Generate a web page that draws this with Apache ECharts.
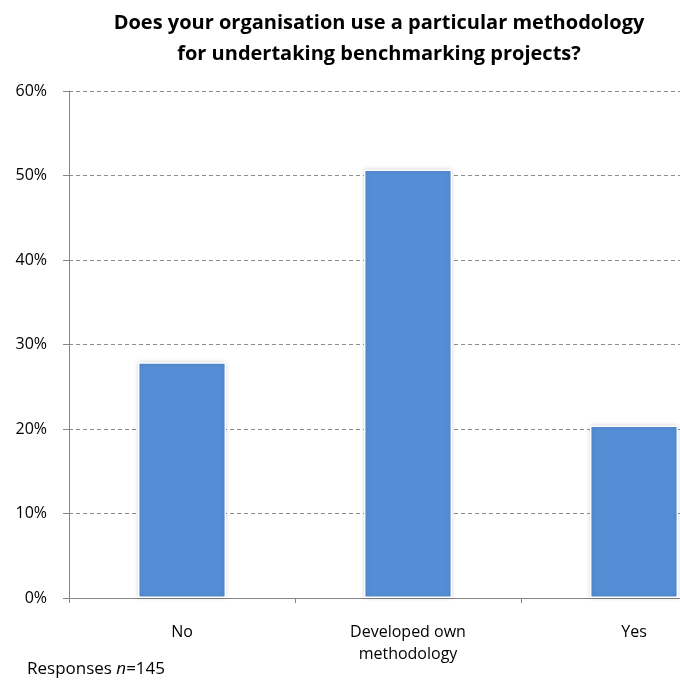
<!DOCTYPE html>
<html>
<head>
<meta charset="utf-8">
<script src="https://cdn.jsdelivr.net/npm/echarts@6/dist/echarts.min.js"></script>
<style>
  html, body { margin: 0; padding: 0; background: #fff; }
  #chart { width: 680px; height: 684px; }
</style>
</head>
<body>
<div id="chart"></div>
<script>
// Survey answers and their share of responses (percent)
const categories = ['No', 'Developed own\nmethodology', 'Yes'];
const shares = [27.9, 50.7, 20.4];
const yTicks = [0, 10, 20, 30, 40, 50, 60];

const font = '"Open Sans", Lato, sans-serif';
const chart = echarts.init(document.getElementById('chart'));

chart.setOption({
  animation: false,
  title: {
    text: 'Does your organisation use a particular methodology\nfor undertaking benchmarking projects?',
    left: 374,
    textAlign: 'center',
    top: 3,
    textStyle: {
      fontFamily: font,
      fontWeight: 'bold',
      fontSize: 20,
      lineHeight: 31,
      color: '#000'
    }
  },
  // the third category runs past the right edge of the canvas
  grid: { left: 69, top: 91, right: -67, bottom: 86, containLabel: false, outerBoundsMode: 'none' },
  xAxis: {
    type: 'category',
    data: categories,
    axisLine: { lineStyle: { color: '#868686', width: 1 } },
    axisTick: { show: true, length: 5, lineStyle: { color: '#868686' } },
    axisLabel: {
      margin: 23,
      fontFamily: font,
      fontSize: 16,
      lineHeight: 22,
      color: '#000'
    }
  },
  yAxis: {
    type: 'value',
    min: yTicks[0],
    max: yTicks[yTicks.length - 1],
    interval: 10,
    axisLine: { show: true, lineStyle: { color: '#868686', width: 1 } },
    axisTick: { show: true, length: 6, lineStyle: { color: '#868686' } },
    axisLabel: {
      formatter: v => v + '%',
      margin: 22,
      fontFamily: font,
      fontSize: 16,
      color: '#000'
    },
    splitLine: { lineStyle: { color: '#8c8c8c', type: [4, 3], width: 1 } }
  },
  series: [{
    type: 'bar',
    data: shares,
    barWidth: '39%',
    itemStyle: {
      color: '#558ED5',
      borderColor: '#ffffff',
      borderWidth: 1.5,
      shadowColor: 'rgba(0,0,0,0.18)',
      shadowBlur: 4,
      shadowOffsetX: 0,
      shadowOffsetY: 0
    }
  }],
  graphic: [{
    type: 'text',
    left: 27,
    top: 661,
    style: {
      text: '{a|Responses }{i|n}{a|=145}',
      rich: {
        a: { fontFamily: font, fontSize: 17, lineHeight: 20, fill: '#000' },
        i: { fontFamily: font, fontSize: 17, lineHeight: 20, fontStyle: 'italic', fill: '#000' }
      }
    }
  }]
});
</script>
</body>
</html>
